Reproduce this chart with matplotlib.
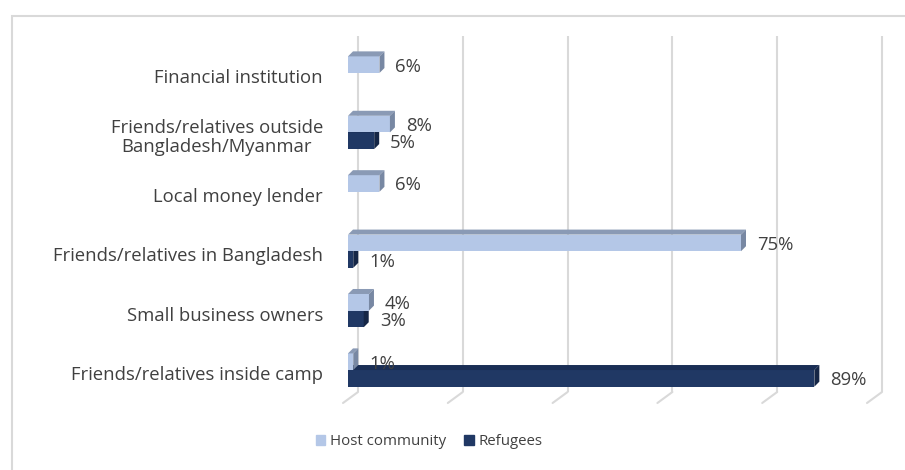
import matplotlib.pyplot as plt
from matplotlib.patches import Polygon, Patch, Rectangle
from matplotlib.transforms import ScaledTranslation

plt.rcParams['font.family'] = ['Open Sans', 'DejaVu Sans']

# data (percent)
categories = ['Financial institution',
              'Friends/relatives outside\nBangladesh/Myanmar',
              'Local money lender',
              'Friends/relatives in Bangladesh',
              'Small business owners',
              'Friends/relatives inside camp']
host = [6, 8, 6, 75, 4, 1]
refugees = [0, 5, 0, 1, 3, 89]
series_names = ['Host community', 'Refugees']
grid_values = [0, 20, 40, 60, 80, 100]

# colours: front face, top face, side face
HOST = ('#B4C7E7', '#8A9AB5', '#7888A3')
REF = ('#203864', '#1A2E55', '#152646')
TXT = '#404040'
GRID = '#D9D9D9'
FS = 13.3

W, H = 905, 470
fig = plt.figure(figsize=(W / 100, H / 100), dpi=100)
ax = fig.add_axes([348 / W, 1 - 392 / H, 524 / W, 356 / H])
ax.set_xlim(0, 100)
ax.set_ylim(5.37, -0.623)
ax.axis('off')


def px(dx, dy):
    """pixel offset -> data offset"""
    inv = ax.transData.inverted()
    x0, y0 = inv.transform((0, 0))
    x1, y1 = inv.transform((dx, dy))
    return x1 - x0, y1 - y0


# back wall gridlines + floor ticks
back = ax.transData + ScaledTranslation(10 / 100, 0, fig.dpi_scale_trans)
y_lo, y_hi = ax.get_ylim()
ax.vlines(grid_values, y_hi, y_lo, transform=back, color=GRID, lw=1.5, zorder=1, clip_on=False)
for g in grid_values:
    ax.annotate('', xy=(g, y_lo), xycoords=back, xytext=(-15, -11), textcoords='offset pixels',
                arrowprops=dict(arrowstyle='-', color=GRID, lw=1.5, shrinkA=0, shrinkB=0))

bar_h = 0.28
ddx, ddy = px(5, 5)


def bar3d(y, v, cols, z):
    if v == 0:
        return
    face, top, side = cols
    y_top, y_bot = y - bar_h / 2, y + bar_h / 2
    ax.barh(y, v, height=bar_h, color=face, edgecolor='none', zorder=z, clip_on=False)
    ax.add_patch(Polygon([(0, y_top), (v, y_top), (v + ddx, y_top + ddy), (ddx, y_top + ddy)],
                         closed=True, fc=top, ec='none', zorder=z, clip_on=False))
    ax.add_patch(Polygon([(v, y_top), (v + ddx, y_top + ddy), (v + ddx, y_bot + ddy), (v, y_bot)],
                         closed=True, fc=side, ec='none', zorder=z, clip_on=False))
    ax.annotate(f'{v}%', xy=(v, y), xytext=(16, -2), textcoords='offset pixels',
                ha='left', va='center', fontsize=FS, color=TXT, zorder=z + 1)


for i in range(len(categories)):
    bar3d(i + bar_h / 2, refugees[i], REF, 3)
    bar3d(i - bar_h / 2, host[i], HOST, 5)
    ax.annotate(categories[i], xy=(0, i), xytext=(-25, -5), textcoords='offset pixels',
                ha='right', va='center', multialignment='center',
                fontsize=FS, color=TXT, linespacing=1.1)

handles = [Patch(color=HOST[0]), Patch(color=REF[0])]
fig.legend(handles, series_names, loc='center', bbox_to_anchor=(0.474, 0.06), ncol=2,
           frameon=False, handlelength=0.65, handleheight=0.65, handletextpad=0.3,
           columnspacing=1.2, fontsize=10.8, labelcolor=TXT)

# chart frame
fig.add_artist(Rectangle((12 / W, -0.1), 1.2, 1 - 16 / H + 0.1, transform=fig.transFigure,
                         fill=False, ec=GRID, lw=1.5))

fig.savefig('out.png', dpi=100)
